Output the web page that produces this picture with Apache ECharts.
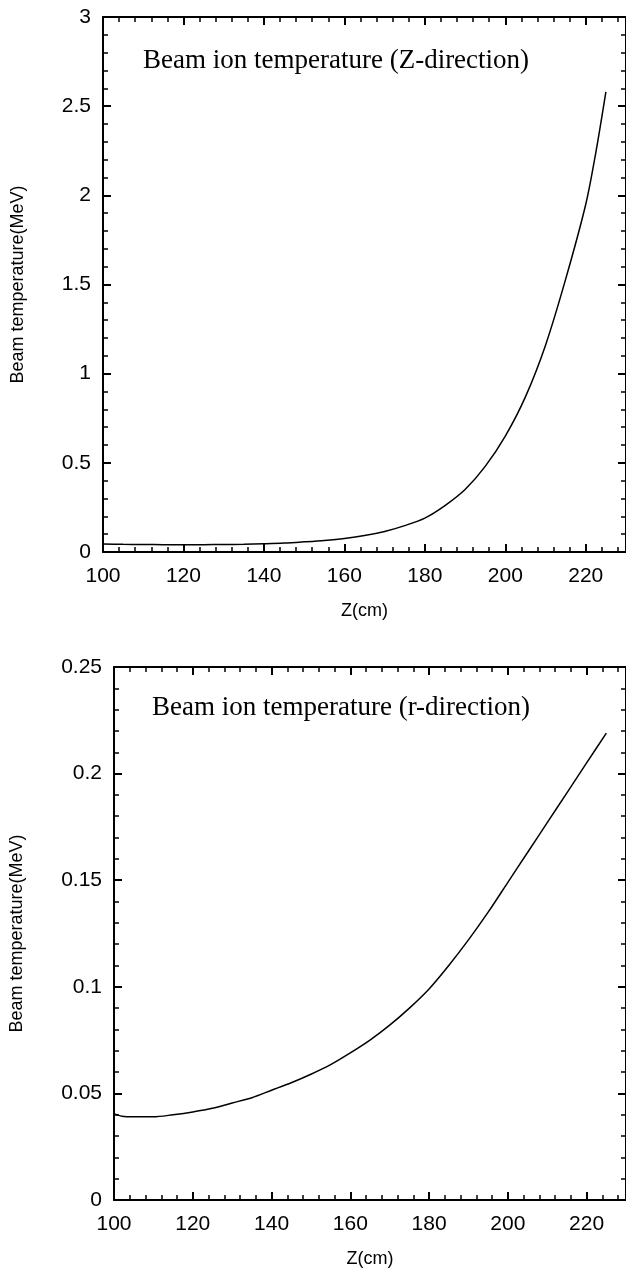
<!DOCTYPE html>
<html>
<head>
<meta charset="utf-8">
<script src="https://cdn.jsdelivr.net/npm/echarts@6/dist/echarts.min.js"></script>
<style>
html,body{margin:0;padding:0;background:#fff;}
#c{width:626px;height:1277px;}
</style>
</head>
<body>
<div id="c"></div>
<script>
// ---- data ----
const zTop = [100,105,110,115,120,125,130,135,140,145,150,155,160,165,170,175,180,185,190,195,200,205,210,215,220,222.5,225];
const tempZ = [0.045,0.043,0.042,0.041,0.041,0.041,0.042,0.043,0.046,0.050,0.057,0.065,0.076,0.092,0.115,0.148,0.19,0.26,0.35,0.48,0.65,0.87,1.16,1.53,1.95,2.24,2.58];
const zBot = [100,102,105,110,115,120,125,130,135,140,145,150,155,160,165,170,175,180,185,190,195,200,205,210,215,220,225];
const tempR = [0.0405,0.0393,0.039,0.039,0.0400,0.0413,0.043,0.0455,0.048,0.0515,0.055,0.059,0.0635,0.069,0.075,0.082,0.090,0.099,0.110,0.122,0.135,0.149,0.163,0.177,0.191,0.205,0.219];
const titleTop = 'Beam ion temperature (Z-direction)';
const titleBot = 'Beam ion temperature (r-direction)';
const xName = 'Z(cm)';
const yName = 'Beam temperature(MeV)';

const chart = echarts.init(document.getElementById('c'), null, {renderer:'canvas'});
const sans = 'Liberation Sans';
const serif = 'Liberation Serif';

function xAx(grid, pos, main){
  return {
    type:'value', gridIndex:grid, position:pos, min:100, max:230, interval:20,
    axisLine:{show:true, onZero:false, lineStyle:{color:'#000', width:2}},
    axisTick:{show:true, inside:true, length:8, lineStyle:{color:'#000', width:2}},
    minorTick:{show:true, splitNumber:5, length:5, lineStyle:{color:'#000', width:1.5}},
    splitLine:{show:false}, minorSplitLine:{show:false},
    axisLabel:{show:main, showMaxLabel:false, fontSize:21, color:'#000', fontFamily:sans, margin:14},
    name: main ? xName : '', nameLocation:'middle', nameGap:50,
    nameTextStyle:{fontSize:18, color:'#000', fontFamily:sans}
  };
}
function yAx(grid, pos, main, max, iv){
  return {
    type:'value', gridIndex:grid, position:pos, min:0, max:max, interval:iv,
    axisLine:{show:true, onZero:false, lineStyle:{color:'#000', width:2}},
    axisTick:{show:true, inside:true, length:8, lineStyle:{color:'#000', width:2}},
    minorTick:{show:true, splitNumber:5, length:5, lineStyle:{color:'#000', width:1.5}},
    splitLine:{show:false}, minorSplitLine:{show:false},
    axisLabel:{show:main, fontSize:21, color:'#000', fontFamily:sans, margin:12},
    name: main ? yName : '', nameLocation:'middle', nameGap: grid===0 ? 76 : 88,
    nameRotate:90,
    nameTextStyle:{fontSize:18, color:'#000', fontFamily:sans}
  };
}

const option = {
  backgroundColor:'#fff',
  animation:false,
  title:[
    {text:titleTop, left:143, top:47, textStyle:{fontFamily:serif, fontWeight:'normal', fontSize:27, color:'#000'}, padding:0},
    {text:titleBot, left:152, top:694, textStyle:{fontFamily:serif, fontWeight:'normal', fontSize:27, color:'#000'}, padding:0}
  ],
  grid:[
    {left:103, top:17, width:526, height:535, containLabel:false},
    {left:114, top:667, width:515, height:533, containLabel:false}
  ],
  xAxis:[xAx(0,'bottom',true), xAx(0,'top',false), xAx(1,'bottom',true), xAx(1,'top',false)],
  yAxis:[yAx(0,'left',true,3,0.5), yAx(0,'right',false,3,0.5), yAx(1,'left',true,0.25,0.05), yAx(1,'right',false,0.25,0.05)],
  series:[
    {type:'line', xAxisIndex:0, yAxisIndex:0, data: zTop.map((x,i)=>[x,tempZ[i]]), smooth:0.3, showSymbol:false, symbol:'none', lineStyle:{color:'#000', width:1.5}},
    {type:'line', xAxisIndex:2, yAxisIndex:2, data: zBot.map((x,i)=>[x,tempR[i]]), smooth:0.3, showSymbol:false, symbol:'none', lineStyle:{color:'#000', width:1.5}}
  ]
};
chart.setOption(option);
</script>
</body>
</html>
